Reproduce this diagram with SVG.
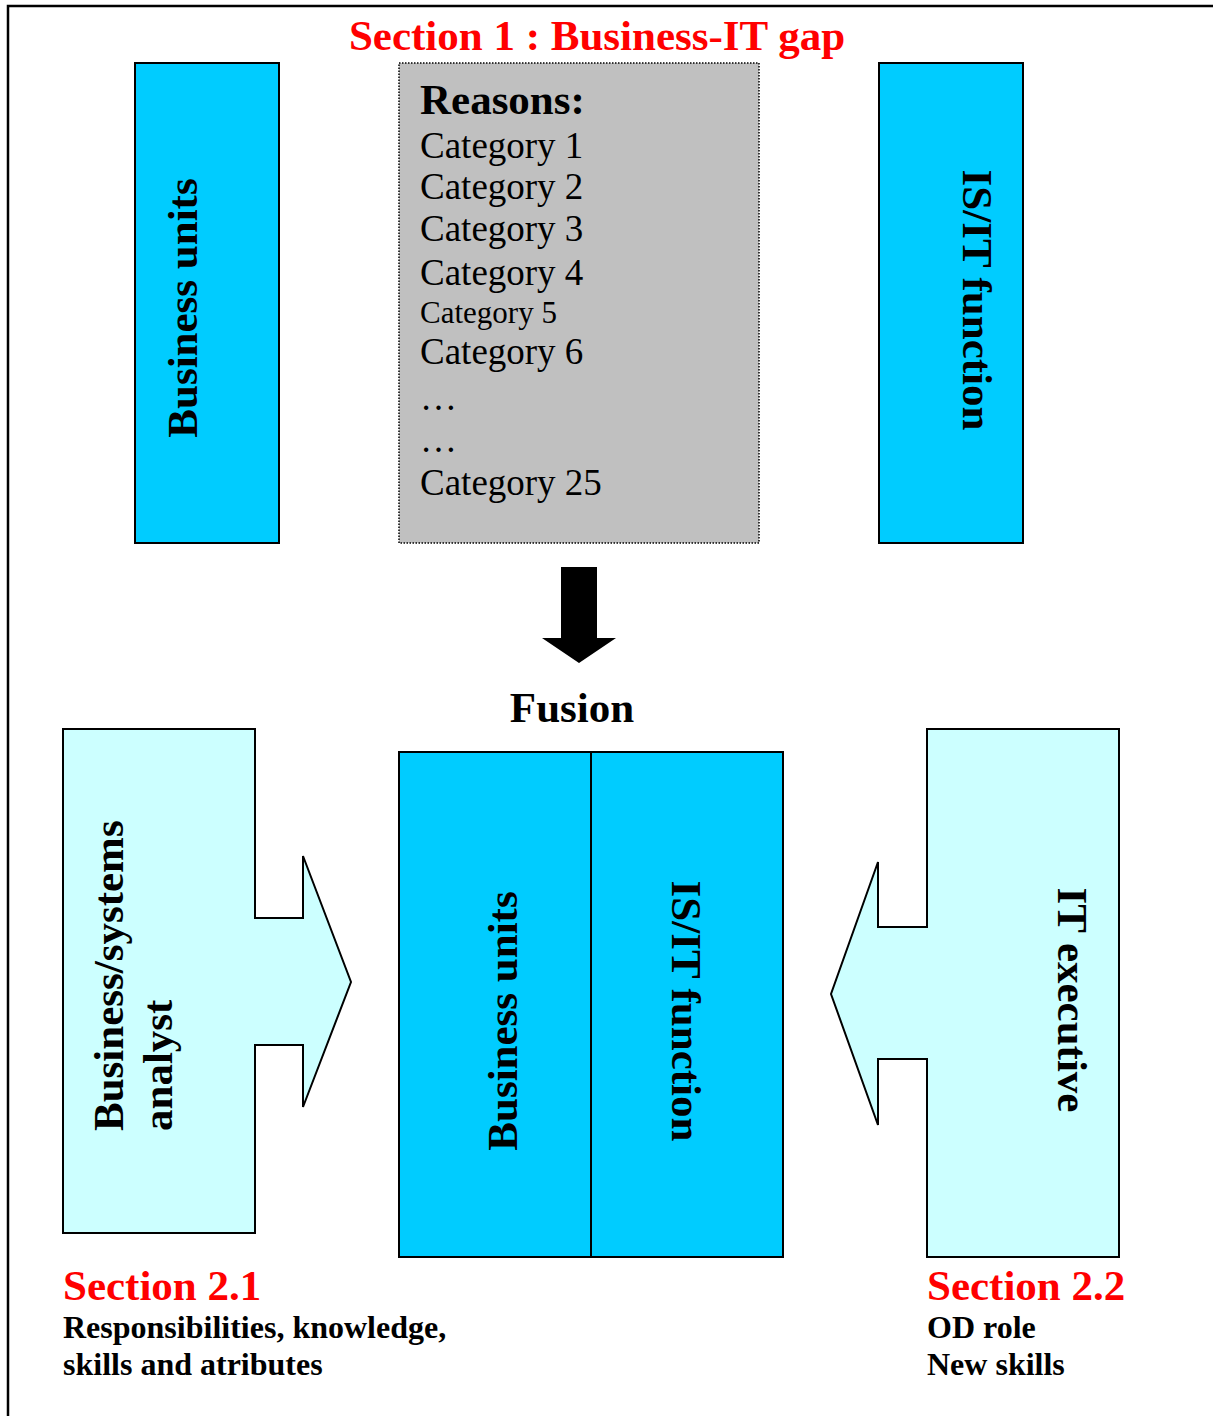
<svg xmlns="http://www.w3.org/2000/svg" width="1213" height="1416" viewBox="0 0 1213 1416">
<style>
  .t { font-family: "Liberation Serif", "Times New Roman", serif; fill: #000; }
  .b { font-weight: bold; font-size: 43px; }
  .red { fill: #FF0000; }
  .cat { font-size: 37px; }
  .small { font-weight: bold; font-size: 32px; }
  .dark { fill: #00CCFF; stroke: #000; stroke-width: 2; }
  .light { fill: #CCFFFF; stroke: #000; stroke-width: 2; }
</style>
<rect x="0" y="0" width="1213" height="1416" fill="#FFFFFF"/>
<rect x="8" y="6" width="1230" height="1430" fill="none" stroke="#000" stroke-width="2.5"/>

<text class="t b red" x="597" y="50" text-anchor="middle">Section 1 : Business-IT gap</text>

<g id="business-units-top">
  <rect class="dark" x="135" y="63" width="144" height="480"/>
  <text class="t b" transform="translate(197,308) rotate(-90)" text-anchor="middle">Business units</text>
</g>

<g id="reasons">
  <rect x="399" y="63" width="360" height="480" fill="#C0C0C0" stroke="#000" stroke-width="1.5" stroke-dasharray="1.5 1.5"/>
  <text class="t b" x="420" y="114">Reasons:</text>
  <text class="t cat" x="420" y="158">Category 1</text>
  <text class="t cat" x="420" y="199">Category 2</text>
  <text class="t cat" x="420" y="241">Category 3</text>
  <text class="t cat" x="420" y="285">Category 4</text>
  <text class="t" x="420" y="323" font-size="31">Category 5</text>
  <text class="t cat" x="420" y="364">Category 6</text>
  <text class="t cat" x="420" y="410">…</text>
  <text class="t cat" x="420" y="452">…</text>
  <text class="t cat" x="420" y="495">Category 25</text>
</g>

<g id="isit-top">
  <rect class="dark" x="879" y="63" width="144" height="480"/>
  <text class="t b" transform="translate(963,300) rotate(90)" text-anchor="middle">IS/IT function</text>
</g>

<g id="connectors">
  <polygon points="561,567 597,567 597,638 616,638 579,663 542,638 561,638" fill="#000"/>
</g>

<text class="t b" x="572" y="722" text-anchor="middle">Fusion</text>

<g id="fusion">
  <rect class="dark" x="399" y="752" width="384" height="505"/>
  <line x1="591" y1="752" x2="591" y2="1257" stroke="#000" stroke-width="2"/>
  <text class="t b" transform="translate(517,1021) rotate(-90)" text-anchor="middle">Business units</text>
  <text class="t b" transform="translate(672,1011) rotate(90)" text-anchor="middle">IS/IT function</text>
</g>

<g id="analyst">
  <polygon class="light" points="63,729 255,729 255,918 303,918 303,856 351,982 303,1107 303,1045 255,1045 255,1233 63,1233"/>
  <text class="t b" transform="translate(123,1131) rotate(-90)">Business/systems</text>
  <text class="t b" transform="translate(172,1131) rotate(-90)">analyst</text>
</g>

<g id="it-executive">
  <polygon class="light" points="927,729 1119,729 1119,1257 927,1257 927,1059 878,1059 878,1125 831,994 878,862 878,927 927,927"/>
  <text class="t b" transform="translate(1058,1000) rotate(90)" text-anchor="middle">IT executive</text>
</g>

<g id="section21">
  <text class="t b red" x="63" y="1300">Section 2.1</text>
  <text class="t small" x="63" y="1338">Responsibilities, knowledge,</text>
  <text class="t small" x="63" y="1375">skills and atributes</text>
</g>

<g id="section22">
  <text class="t b red" x="927" y="1300">Section 2.2</text>
  <text class="t small" x="927" y="1338">OD role</text>
  <text class="t small" x="927" y="1375">New skills</text>
</g>
</svg>
